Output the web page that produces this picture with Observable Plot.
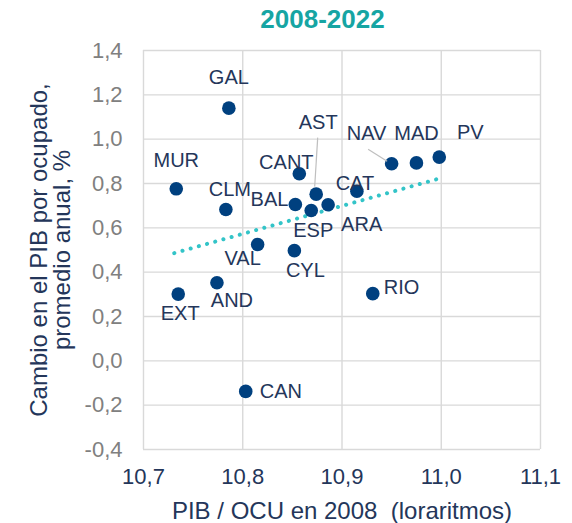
<!DOCTYPE html>
<html>
<head>
<meta charset="utf-8">
<script src="https://cdn.jsdelivr.net/npm/d3@7"></script>
<script src="https://cdn.jsdelivr.net/npm/@observablehq/plot@0.6"></script>
<style>
  html, body { margin: 0; padding: 0; background: #fff; }
  #title { width: 572px; box-sizing: border-box; padding-left: 73px; height: 38px; line-height: 38px;
    text-align: center; font-family: "Liberation Sans", Arial, sans-serif; font-weight: bold;
    font-size: 26px; color: #16a5a3; }
  svg { display: block; }
</style>
</head>
<body>
<div id="title">2008-2022</div>
<div id="chart"></div>
<script>
// ---- data ----
const regions = ["GAL","MUR","CLM","CANT","AST","BAL","ESP","ARA","CAT","NAV","MAD","PV","RIO","VAL","CYL","AND","EXT","CAN"];
const pibOcu2008 = [10.786,10.733,10.783,10.857,10.874,10.853,10.869,10.886,10.915,10.950,10.975,10.998,10.931,10.815,10.852,10.774,10.735,10.803];
const cambioPib = [1.140,0.776,0.683,0.844,0.752,0.705,0.678,0.704,0.765,0.889,0.893,0.919,0.303,0.525,0.497,0.352,0.301,-0.138];
const trendX = [10.731, 10.996];
const trendY = [0.486, 0.820];
const xTicks = [10.7, 10.8, 10.9, 11.0, 11.1];
const yTicks = [-0.4, -0.2, 0.0, 0.2, 0.4, 0.6, 0.8, 1.0, 1.2, 1.4];
const xTitle = "PIB / OCU en 2008  (loraritmos)";
const yTitle = "Cambio en el PIB por ocupado,\npromedio anual, %";

// ---- label layout (pixel offsets from each dot) ----
const labelLayout = {
  GAL: [0, -31, "middle"], MUR: [0, -28, "middle"], CLM: [4, -20, "middle"],
  CANT: [-13, -11, "middle"], AST: [2, -72, "middle"], BAL: [-7, -5, "end"],
  ESP: [2, 20, "middle"], ARA: [13, 20, "start"], CAT: [-2, -8, "middle"],
  NAV: [-25, -30, "middle"], MAD: [0, -29, "middle"], PV: [31, -25, "middle"],
  RIO: [11, -6, "start"], VAL: [-15, 14, "middle"], CYL: [11, 20, "middle"],
  AND: [15, 18, "middle"], EXT: [2, 19, "middle"], CAN: [14, 0, "start"]
};
const leaders = { AST: [[2, -56], [-1, -7]], NAV: [[-23, -14], [-4, -2]] };

const data = regions.map((r, i) => ({ region: r, x: pibOcu2008[i], y: cambioPib[i] }));
const trend = trendX.map((x, i) => ({ x, y: trendY[i] }));

const loc = d3.formatLocale({ decimal: ",", thousands: ".", grouping: [3], currency: ["", "€"], minus: "-" });
const fmt = loc.format(".1f");

const navy = "#24365a";
const font = "Liberation Sans, Arial, sans-serif";

const labelMarks = data.map(d => {
  const [dx, dy, anchor] = labelLayout[d.region];
  return Plot.text([d], { x: "x", y: "y", text: "region", dx, dy, textAnchor: anchor,
    fill: navy, fontSize: 20 });
});

const chart = Plot.plot({
  width: 572,
  height: 485,
  marginLeft: 143,
  marginRight: 32,
  marginTop: 12,
  marginBottom: 74,
  style: { fontFamily: font, background: "#fff" },
  x: { domain: [10.7, 11.1], ticks: xTicks, tickFormat: fmt, label: null },
  y: { domain: [-0.4, 1.4], ticks: yTicks, tickFormat: fmt, label: null },
  marks: [
    Plot.gridX(xTicks, { stroke: "#d9d9d9", strokeOpacity: 1, strokeWidth: 1.4 }),
    Plot.gridY(yTicks, { stroke: "#d9d9d9", strokeOpacity: 1, strokeWidth: 1.4 }),
    Plot.axisX(xTicks, { tickSize: 0, tickPadding: 19, tickFormat: fmt, fontSize: 22, color: navy, label: null }),
    Plot.axisY(yTicks, { tickSize: 0, tickPadding: 21, tickFormat: fmt, fontSize: 22, color: "#808080", label: null }),
    Plot.line(trend, { x: "x", y: "y", stroke: "#33c4c8", strokeWidth: 4, strokeDasharray: "0.1 8.4", strokeLinecap: "round" }),
    Plot.dot(data, { x: "x", y: "y", r: 6.8, fill: "#00407f", stroke: "none" }),
    ...labelMarks,
    Plot.text([xTitle], { frameAnchor: "bottom", dy: 69, fill: navy, fontSize: 24 }),
    Plot.text([yTitle], { frameAnchor: "left", textAnchor: "middle", lineAnchor: "middle", dx: -92, rotate: -90,
      fill: navy, fontSize: 24, lineHeight: 0.95 })
  ]
});

// leader lines drawn through the plot's own scales
const sx = chart.scale("x"), sy = chart.scale("y");
const g = d3.select(chart).append("g").attr("stroke", "#bfbfbf").attr("stroke-width", 1.2);
data.forEach(d => {
  const L = leaders[d.region];
  if (!L) return;
  const px = sx.apply(d.x), py = sy.apply(d.y);
  g.append("line").attr("x1", px + L[0][0]).attr("y1", py + L[0][1])
    .attr("x2", px + L[1][0]).attr("y2", py + L[1][1]);
});

document.getElementById("chart").appendChild(chart);
</script>
</body>
</html>
